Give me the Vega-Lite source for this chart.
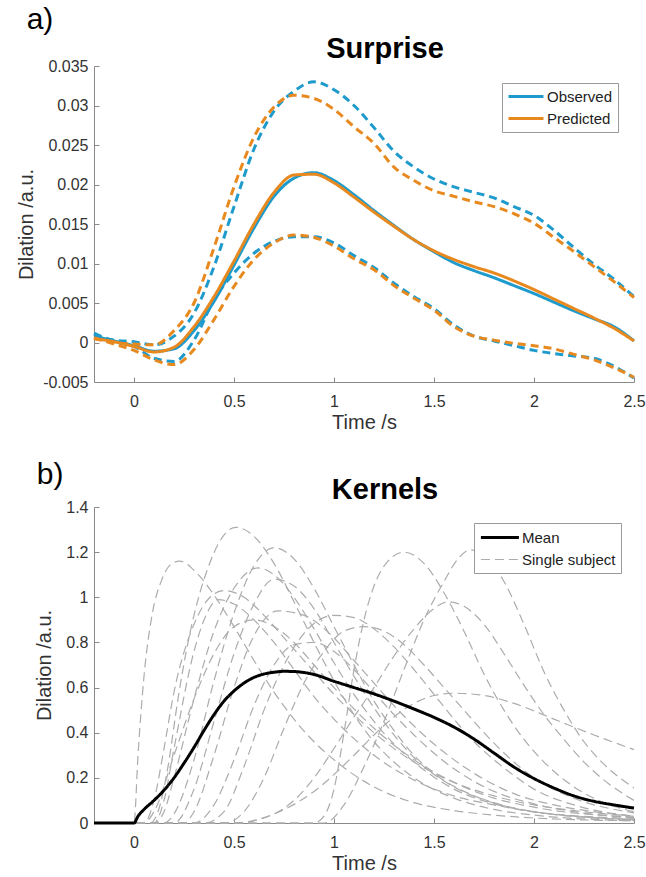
{
"$schema": "https://vega.github.io/schema/vega-lite/v6.json",
"background": "white",
"padding": {"left": 16, "top": 5, "right": 0, "bottom": 0},
"spacing": 28,
"resolve": {"scale": {"color": "independent", "strokeDash": "independent", "strokeWidth": "independent"}, "legend": {"color": "independent", "strokeDash": "independent", "strokeWidth": "independent"}},
"config": {
  "view": {"stroke": null},
  "font": "Liberation Sans",
  "axis": {"domainColor": "#8a8a8a", "tickColor": "#8a8a8a", "domainWidth": 1, "tickWidth": 1, "tickSize": -5, "labelColor": "#333333", "titleColor": "#333333", "labelFontSize": 16, "titleFontSize": 20, "titleFontWeight": "normal", "grid": false, "labelFlush": false, "labelOverlap": false},
  "axisX": {"labelPadding": 16, "titlePadding": 3},
  "axisY": {"labelPadding": 11, "titlePadding": 6},
  "legend": {"orient": "none", "strokeColor": "#999999", "fillColor": "white", "padding": 5, "labelFontSize": 15, "labelColor": "#222222", "title": null, "rowPadding": 5}
},
"datasets": {
"a": [
{"t":-0.2,"v":0.0008,"s":"om","m":"Observed","k":"mean"},{"t":-0.1,"v":0.0002,"s":"om","m":"Observed","k":"mean"},{"t":0,"v":-0.0004,"s":"om","m":"Observed","k":"mean"},{"t":0.1,"v":-0.0011,"s":"om","m":"Observed","k":"mean"},{"t":0.2,"v":-0.0008,"s":"om","m":"Observed","k":"mean"},{"t":0.3,"v":0.0015,"s":"om","m":"Observed","k":"mean"},{"t":0.4,"v":0.0052,"s":"om","m":"Observed","k":"mean"},{"t":0.5,"v":0.0098,"s":"om","m":"Observed","k":"mean"},{"t":0.6,"v":0.0145,"s":"om","m":"Observed","k":"mean"},{"t":0.7,"v":0.0185,"s":"om","m":"Observed","k":"mean"},{"t":0.8,"v":0.0208,"s":"om","m":"Observed","k":"mean"},{"t":0.9,"v":0.0215,"s":"om","m":"Observed","k":"mean"},{"t":1.0,"v":0.0205,"s":"om","m":"Observed","k":"mean"},{"t":1.1,"v":0.0187,"s":"om","m":"Observed","k":"mean"},{"t":1.2,"v":0.0167,"s":"om","m":"Observed","k":"mean"},{"t":1.3,"v":0.0148,"s":"om","m":"Observed","k":"mean"},{"t":1.4,"v":0.0130,"s":"om","m":"Observed","k":"mean"},{"t":1.5,"v":0.0115,"s":"om","m":"Observed","k":"mean"},{"t":1.6,"v":0.0101,"s":"om","m":"Observed","k":"mean"},{"t":1.7,"v":0.0091,"s":"om","m":"Observed","k":"mean"},{"t":1.8,"v":0.0082,"s":"om","m":"Observed","k":"mean"},{"t":1.9,"v":0.0072,"s":"om","m":"Observed","k":"mean"},{"t":2.0,"v":0.0062,"s":"om","m":"Observed","k":"mean"},{"t":2.1,"v":0.0051,"s":"om","m":"Observed","k":"mean"},{"t":2.2,"v":0.0040,"s":"om","m":"Observed","k":"mean"},{"t":2.3,"v":0.0030,"s":"om","m":"Observed","k":"mean"},{"t":2.4,"v":0.0020,"s":"om","m":"Observed","k":"mean"},{"t":2.5,"v":0.0002,"s":"om","m":"Observed","k":"mean"},
{"t":-0.2,"v":0.0012,"s":"ou","m":"Observed","k":"ci"},{"t":-0.1,"v":0.0003,"s":"ou","m":"Observed","k":"ci"},{"t":0,"v":0.0001,"s":"ou","m":"Observed","k":"ci"},{"t":0.1,"v":-0.0003,"s":"ou","m":"Observed","k":"ci"},{"t":0.2,"v":0.0008,"s":"ou","m":"Observed","k":"ci"},{"t":0.3,"v":0.0037,"s":"ou","m":"Observed","k":"ci"},{"t":0.4,"v":0.0096,"s":"ou","m":"Observed","k":"ci"},{"t":0.5,"v":0.0172,"s":"ou","m":"Observed","k":"ci"},{"t":0.6,"v":0.0245,"s":"ou","m":"Observed","k":"ci"},{"t":0.7,"v":0.0293,"s":"ou","m":"Observed","k":"ci"},{"t":0.8,"v":0.0318,"s":"ou","m":"Observed","k":"ci"},{"t":0.9,"v":0.0330,"s":"ou","m":"Observed","k":"ci"},{"t":1.0,"v":0.0320,"s":"ou","m":"Observed","k":"ci"},{"t":1.1,"v":0.0300,"s":"ou","m":"Observed","k":"ci"},{"t":1.2,"v":0.0272,"s":"ou","m":"Observed","k":"ci"},{"t":1.3,"v":0.0242,"s":"ou","m":"Observed","k":"ci"},{"t":1.4,"v":0.0222,"s":"ou","m":"Observed","k":"ci"},{"t":1.5,"v":0.0207,"s":"ou","m":"Observed","k":"ci"},{"t":1.6,"v":0.0197,"s":"ou","m":"Observed","k":"ci"},{"t":1.7,"v":0.0190,"s":"ou","m":"Observed","k":"ci"},{"t":1.8,"v":0.0183,"s":"ou","m":"Observed","k":"ci"},{"t":1.9,"v":0.0172,"s":"ou","m":"Observed","k":"ci"},{"t":2.0,"v":0.0161,"s":"ou","m":"Observed","k":"ci"},{"t":2.1,"v":0.0142,"s":"ou","m":"Observed","k":"ci"},{"t":2.2,"v":0.0120,"s":"ou","m":"Observed","k":"ci"},{"t":2.3,"v":0.0099,"s":"ou","m":"Observed","k":"ci"},{"t":2.4,"v":0.0080,"s":"ou","m":"Observed","k":"ci"},{"t":2.5,"v":0.0058,"s":"ou","m":"Observed","k":"ci"},
{"t":-0.2,"v":0.0010,"s":"ol","m":"Observed","k":"ci"},{"t":-0.1,"v":0.0001,"s":"ol","m":"Observed","k":"ci"},{"t":0,"v":-0.0005,"s":"ol","m":"Observed","k":"ci"},{"t":0.1,"v":-0.0020,"s":"ol","m":"Observed","k":"ci"},{"t":0.2,"v":-0.0024,"s":"ol","m":"Observed","k":"ci"},{"t":0.3,"v":0.0003,"s":"ol","m":"Observed","k":"ci"},{"t":0.4,"v":0.0054,"s":"ol","m":"Observed","k":"ci"},{"t":0.5,"v":0.0088,"s":"ol","m":"Observed","k":"ci"},{"t":0.6,"v":0.0113,"s":"ol","m":"Observed","k":"ci"},{"t":0.7,"v":0.0128,"s":"ol","m":"Observed","k":"ci"},{"t":0.8,"v":0.0134,"s":"ol","m":"Observed","k":"ci"},{"t":0.9,"v":0.0134,"s":"ol","m":"Observed","k":"ci"},{"t":1.0,"v":0.0126,"s":"ol","m":"Observed","k":"ci"},{"t":1.1,"v":0.0110,"s":"ol","m":"Observed","k":"ci"},{"t":1.2,"v":0.0095,"s":"ol","m":"Observed","k":"ci"},{"t":1.3,"v":0.0075,"s":"ol","m":"Observed","k":"ci"},{"t":1.4,"v":0.0058,"s":"ol","m":"Observed","k":"ci"},{"t":1.5,"v":0.0043,"s":"ol","m":"Observed","k":"ci"},{"t":1.6,"v":0.0022,"s":"ol","m":"Observed","k":"ci"},{"t":1.7,"v":0.0008,"s":"ol","m":"Observed","k":"ci"},{"t":1.8,"v":0.0002,"s":"ol","m":"Observed","k":"ci"},{"t":1.9,"v":-0.0004,"s":"ol","m":"Observed","k":"ci"},{"t":2.0,"v":-0.0010,"s":"ol","m":"Observed","k":"ci"},{"t":2.1,"v":-0.0014,"s":"ol","m":"Observed","k":"ci"},{"t":2.2,"v":-0.0017,"s":"ol","m":"Observed","k":"ci"},{"t":2.3,"v":-0.0020,"s":"ol","m":"Observed","k":"ci"},{"t":2.4,"v":-0.0030,"s":"ol","m":"Observed","k":"ci"},{"t":2.5,"v":-0.0045,"s":"ol","m":"Observed","k":"ci"},
{"t":-0.2,"v":0.0005,"s":"pm","m":"Predicted","k":"mean"},{"t":-0.1,"v":0.0001,"s":"pm","m":"Predicted","k":"mean"},{"t":0,"v":-0.0005,"s":"pm","m":"Predicted","k":"mean"},{"t":0.1,"v":-0.0012,"s":"pm","m":"Predicted","k":"mean"},{"t":0.2,"v":-0.0006,"s":"pm","m":"Predicted","k":"mean"},{"t":0.3,"v":0.0020,"s":"pm","m":"Predicted","k":"mean"},{"t":0.4,"v":0.0058,"s":"pm","m":"Predicted","k":"mean"},{"t":0.5,"v":0.0103,"s":"pm","m":"Predicted","k":"mean"},{"t":0.6,"v":0.0150,"s":"pm","m":"Predicted","k":"mean"},{"t":0.7,"v":0.0190,"s":"pm","m":"Predicted","k":"mean"},{"t":0.8,"v":0.0212,"s":"pm","m":"Predicted","k":"mean"},{"t":0.9,"v":0.0213,"s":"pm","m":"Predicted","k":"mean"},{"t":1.0,"v":0.0202,"s":"pm","m":"Predicted","k":"mean"},{"t":1.1,"v":0.0184,"s":"pm","m":"Predicted","k":"mean"},{"t":1.2,"v":0.0165,"s":"pm","m":"Predicted","k":"mean"},{"t":1.3,"v":0.0147,"s":"pm","m":"Predicted","k":"mean"},{"t":1.4,"v":0.0130,"s":"pm","m":"Predicted","k":"mean"},{"t":1.5,"v":0.0116,"s":"pm","m":"Predicted","k":"mean"},{"t":1.6,"v":0.0105,"s":"pm","m":"Predicted","k":"mean"},{"t":1.7,"v":0.0096,"s":"pm","m":"Predicted","k":"mean"},{"t":1.8,"v":0.0088,"s":"pm","m":"Predicted","k":"mean"},{"t":1.9,"v":0.0078,"s":"pm","m":"Predicted","k":"mean"},{"t":2.0,"v":0.0067,"s":"pm","m":"Predicted","k":"mean"},{"t":2.1,"v":0.0055,"s":"pm","m":"Predicted","k":"mean"},{"t":2.2,"v":0.0043,"s":"pm","m":"Predicted","k":"mean"},{"t":2.3,"v":0.0031,"s":"pm","m":"Predicted","k":"mean"},{"t":2.4,"v":0.0018,"s":"pm","m":"Predicted","k":"mean"},{"t":2.5,"v":0.0002,"s":"pm","m":"Predicted","k":"mean"},
{"t":-0.2,"v":0.0005,"s":"pu","m":"Predicted","k":"ci"},{"t":-0.1,"v":0.0000,"s":"pu","m":"Predicted","k":"ci"},{"t":0,"v":-0.0002,"s":"pu","m":"Predicted","k":"ci"},{"t":0.1,"v":-0.0003,"s":"pu","m":"Predicted","k":"ci"},{"t":0.2,"v":0.0015,"s":"pu","m":"Predicted","k":"ci"},{"t":0.3,"v":0.0050,"s":"pu","m":"Predicted","k":"ci"},{"t":0.4,"v":0.0120,"s":"pu","m":"Predicted","k":"ci"},{"t":0.5,"v":0.0197,"s":"pu","m":"Predicted","k":"ci"},{"t":0.6,"v":0.0260,"s":"pu","m":"Predicted","k":"ci"},{"t":0.7,"v":0.0298,"s":"pu","m":"Predicted","k":"ci"},{"t":0.8,"v":0.0313,"s":"pu","m":"Predicted","k":"ci"},{"t":0.9,"v":0.0309,"s":"pu","m":"Predicted","k":"ci"},{"t":1.0,"v":0.0295,"s":"pu","m":"Predicted","k":"ci"},{"t":1.1,"v":0.0273,"s":"pu","m":"Predicted","k":"ci"},{"t":1.2,"v":0.0252,"s":"pu","m":"Predicted","k":"ci"},{"t":1.3,"v":0.0222,"s":"pu","m":"Predicted","k":"ci"},{"t":1.4,"v":0.0205,"s":"pu","m":"Predicted","k":"ci"},{"t":1.5,"v":0.0192,"s":"pu","m":"Predicted","k":"ci"},{"t":1.6,"v":0.0185,"s":"pu","m":"Predicted","k":"ci"},{"t":1.7,"v":0.0178,"s":"pu","m":"Predicted","k":"ci"},{"t":1.8,"v":0.0172,"s":"pu","m":"Predicted","k":"ci"},{"t":1.9,"v":0.0163,"s":"pu","m":"Predicted","k":"ci"},{"t":2.0,"v":0.0151,"s":"pu","m":"Predicted","k":"ci"},{"t":2.1,"v":0.0133,"s":"pu","m":"Predicted","k":"ci"},{"t":2.2,"v":0.0115,"s":"pu","m":"Predicted","k":"ci"},{"t":2.3,"v":0.0096,"s":"pu","m":"Predicted","k":"ci"},{"t":2.4,"v":0.0077,"s":"pu","m":"Predicted","k":"ci"},{"t":2.5,"v":0.0057,"s":"pu","m":"Predicted","k":"ci"},
{"t":-0.2,"v":0.0006,"s":"pl","m":"Predicted","k":"ci"},{"t":-0.1,"v":-0.0002,"s":"pl","m":"Predicted","k":"ci"},{"t":0,"v":-0.0010,"s":"pl","m":"Predicted","k":"ci"},{"t":0.1,"v":-0.0022,"s":"pl","m":"Predicted","k":"ci"},{"t":0.2,"v":-0.0028,"s":"pl","m":"Predicted","k":"ci"},{"t":0.3,"v":-0.0009,"s":"pl","m":"Predicted","k":"ci"},{"t":0.4,"v":0.0029,"s":"pl","m":"Predicted","k":"ci"},{"t":0.5,"v":0.0071,"s":"pl","m":"Predicted","k":"ci"},{"t":0.6,"v":0.0105,"s":"pl","m":"Predicted","k":"ci"},{"t":0.7,"v":0.0126,"s":"pl","m":"Predicted","k":"ci"},{"t":0.8,"v":0.0136,"s":"pl","m":"Predicted","k":"ci"},{"t":0.9,"v":0.0133,"s":"pl","m":"Predicted","k":"ci"},{"t":1.0,"v":0.0122,"s":"pl","m":"Predicted","k":"ci"},{"t":1.1,"v":0.0106,"s":"pl","m":"Predicted","k":"ci"},{"t":1.2,"v":0.0092,"s":"pl","m":"Predicted","k":"ci"},{"t":1.3,"v":0.0072,"s":"pl","m":"Predicted","k":"ci"},{"t":1.4,"v":0.0056,"s":"pl","m":"Predicted","k":"ci"},{"t":1.5,"v":0.0041,"s":"pl","m":"Predicted","k":"ci"},{"t":1.6,"v":0.0020,"s":"pl","m":"Predicted","k":"ci"},{"t":1.7,"v":0.0008,"s":"pl","m":"Predicted","k":"ci"},{"t":1.8,"v":0.0003,"s":"pl","m":"Predicted","k":"ci"},{"t":1.9,"v":-0.0001,"s":"pl","m":"Predicted","k":"ci"},{"t":2.0,"v":-0.0004,"s":"pl","m":"Predicted","k":"ci"},{"t":2.1,"v":-0.0008,"s":"pl","m":"Predicted","k":"ci"},{"t":2.2,"v":-0.0015,"s":"pl","m":"Predicted","k":"ci"},{"t":2.3,"v":-0.0022,"s":"pl","m":"Predicted","k":"ci"},{"t":2.4,"v":-0.0032,"s":"pl","m":"Predicted","k":"ci"},{"t":2.5,"v":-0.0044,"s":"pl","m":"Predicted","k":"ci"}
],
"bm": [
{"t":-0.2,"v":0,"type":"Mean"},{"t":0,"v":0,"type":"Mean"},{"t":0.02,"v":0.03,"type":"Mean"},{"t":0.05,"v":0.06,"type":"Mean"},{"t":0.1,"v":0.1,"type":"Mean"},{"t":0.15,"v":0.145,"type":"Mean"},{"t":0.2,"v":0.2,"type":"Mean"},{"t":0.25,"v":0.265,"type":"Mean"},{"t":0.3,"v":0.335,"type":"Mean"},{"t":0.35,"v":0.41,"type":"Mean"},{"t":0.4,"v":0.48,"type":"Mean"},{"t":0.45,"v":0.54,"type":"Mean"},{"t":0.5,"v":0.585,"type":"Mean"},{"t":0.55,"v":0.62,"type":"Mean"},{"t":0.6,"v":0.645,"type":"Mean"},{"t":0.65,"v":0.66,"type":"Mean"},{"t":0.7,"v":0.668,"type":"Mean"},{"t":0.75,"v":0.672,"type":"Mean"},{"t":0.8,"v":0.671,"type":"Mean"},{"t":0.9,"v":0.658,"type":"Mean"},{"t":1.0,"v":0.628,"type":"Mean"},{"t":1.1,"v":0.6,"type":"Mean"},{"t":1.2,"v":0.572,"type":"Mean"},{"t":1.3,"v":0.54,"type":"Mean"},{"t":1.4,"v":0.505,"type":"Mean"},{"t":1.5,"v":0.468,"type":"Mean"},{"t":1.6,"v":0.425,"type":"Mean"},{"t":1.7,"v":0.372,"type":"Mean"},{"t":1.8,"v":0.31,"type":"Mean"},{"t":1.9,"v":0.248,"type":"Mean"},{"t":2.0,"v":0.197,"type":"Mean"},{"t":2.1,"v":0.155,"type":"Mean"},{"t":2.2,"v":0.12,"type":"Mean"},{"t":2.3,"v":0.096,"type":"Mean"},{"t":2.4,"v":0.08,"type":"Mean"},{"t":2.5,"v":0.066,"type":"Mean"}
],
"bs": [
{"s":1,"t":-0.2,"v":0},{"s":1,"t":0,"v":0},{"s":1,"t":0.02,"v":0.3},{"s":1,"t":0.05,"v":0.65},{"s":1,"t":0.09,"v":0.92},{"s":1,"t":0.14,"v":1.08},{"s":1,"t":0.19,"v":1.15},{"s":1,"t":0.23,"v":1.16},{"s":1,"t":0.3,"v":1.12},{"s":1,"t":0.4,"v":1.01},{"s":1,"t":0.5,"v":0.87},{"s":1,"t":0.6,"v":0.72},{"s":1,"t":0.7,"v":0.58},{"s":1,"t":0.8,"v":0.46},{"s":1,"t":0.9,"v":0.36},{"s":1,"t":1.0,"v":0.28},{"s":1,"t":1.2,"v":0.16},{"s":1,"t":1.4,"v":0.09},{"s":1,"t":1.6,"v":0.055},{"s":1,"t":1.8,"v":0.035},{"s":1,"t":2.0,"v":0.022},{"s":1,"t":2.5,"v":0.01},
{"s":2,"t":-0.2,"v":0},{"s":2,"t":0.08,"v":0},{"s":2,"t":0.12,"v":0.05},{"s":2,"t":0.17,"v":0.25},{"s":2,"t":0.22,"v":0.55},{"s":2,"t":0.27,"v":0.8},{"s":2,"t":0.32,"v":0.99},{"s":2,"t":0.37,"v":1.13},{"s":2,"t":0.43,"v":1.25},{"s":2,"t":0.51,"v":1.31},{"s":2,"t":0.6,"v":1.27},{"s":2,"t":0.7,"v":1.15},{"s":2,"t":0.8,"v":0.98},{"s":2,"t":0.9,"v":0.8},{"s":2,"t":1.0,"v":0.63},{"s":2,"t":1.1,"v":0.48},{"s":2,"t":1.2,"v":0.36},{"s":2,"t":1.3,"v":0.27},{"s":2,"t":1.4,"v":0.2},{"s":2,"t":1.6,"v":0.11},{"s":2,"t":1.8,"v":0.06},{"s":2,"t":2.0,"v":0.035},{"s":2,"t":2.5,"v":0.01},
{"s":3,"t":-0.2,"v":0},{"s":3,"t":0.15,"v":0},{"s":3,"t":0.2,"v":0.04},{"s":3,"t":0.3,"v":0.28},{"s":3,"t":0.4,"v":0.63},{"s":3,"t":0.5,"v":0.93},{"s":3,"t":0.6,"v":1.14},{"s":3,"t":0.7,"v":1.22},{"s":3,"t":0.8,"v":1.17},{"s":3,"t":0.9,"v":1.04},{"s":3,"t":1.0,"v":0.87},{"s":3,"t":1.1,"v":0.7},{"s":3,"t":1.2,"v":0.54},{"s":3,"t":1.3,"v":0.41},{"s":3,"t":1.4,"v":0.3},{"s":3,"t":1.5,"v":0.22},{"s":3,"t":1.7,"v":0.12},{"s":3,"t":1.9,"v":0.065},{"s":3,"t":2.2,"v":0.03},{"s":3,"t":2.5,"v":0.015},
{"s":4,"t":-0.2,"v":0},{"s":4,"t":0.1,"v":0},{"s":4,"t":0.15,"v":0.05},{"s":4,"t":0.2,"v":0.2},{"s":4,"t":0.3,"v":0.55},{"s":4,"t":0.4,"v":0.85},{"s":4,"t":0.5,"v":1.04},{"s":4,"t":0.62,"v":1.13},{"s":4,"t":0.7,"v":1.1},{"s":4,"t":0.8,"v":1.0},{"s":4,"t":0.9,"v":0.86},{"s":4,"t":1.0,"v":0.71},{"s":4,"t":1.1,"v":0.57},{"s":4,"t":1.2,"v":0.45},{"s":4,"t":1.3,"v":0.35},{"s":4,"t":1.4,"v":0.27},{"s":4,"t":1.6,"v":0.15},{"s":4,"t":1.8,"v":0.085},{"s":4,"t":2.0,"v":0.05},{"s":4,"t":2.5,"v":0.015},
{"s":5,"t":-0.2,"v":0},{"s":5,"t":0.2,"v":0},{"s":5,"t":0.3,"v":0.15},{"s":5,"t":0.4,"v":0.45},{"s":5,"t":0.5,"v":0.75},{"s":5,"t":0.6,"v":0.97},{"s":5,"t":0.7,"v":1.08},{"s":5,"t":0.8,"v":1.05},{"s":5,"t":0.9,"v":0.95},{"s":5,"t":1.0,"v":0.8},{"s":5,"t":1.1,"v":0.65},{"s":5,"t":1.2,"v":0.51},{"s":5,"t":1.3,"v":0.39},{"s":5,"t":1.4,"v":0.29},{"s":5,"t":1.6,"v":0.16},{"s":5,"t":1.8,"v":0.09},{"s":5,"t":2.0,"v":0.05},{"s":5,"t":2.5,"v":0.015},
{"s":6,"t":-0.2,"v":0},{"s":6,"t":0.05,"v":0},{"s":6,"t":0.1,"v":0.1},{"s":6,"t":0.15,"v":0.33},{"s":6,"t":0.2,"v":0.58},{"s":6,"t":0.3,"v":0.88},{"s":6,"t":0.38,"v":1.0},{"s":6,"t":0.45,"v":1.03},{"s":6,"t":0.55,"v":1.0},{"s":6,"t":0.65,"v":0.92},{"s":6,"t":0.75,"v":0.82},{"s":6,"t":0.9,"v":0.67},{"s":6,"t":1.0,"v":0.57},{"s":6,"t":1.2,"v":0.4},{"s":6,"t":1.4,"v":0.27},{"s":6,"t":1.6,"v":0.18},{"s":6,"t":1.8,"v":0.12},{"s":6,"t":2.0,"v":0.08},{"s":6,"t":2.2,"v":0.055},{"s":6,"t":2.5,"v":0.03},
{"s":7,"t":-0.2,"v":0},{"s":7,"t":0.1,"v":0},{"s":7,"t":0.15,"v":0.1},{"s":7,"t":0.2,"v":0.33},{"s":7,"t":0.3,"v":0.76},{"s":7,"t":0.36,"v":0.92},{"s":7,"t":0.42,"v":0.99},{"s":7,"t":0.5,"v":0.97},{"s":7,"t":0.6,"v":0.9},{"s":7,"t":0.7,"v":0.8},{"s":7,"t":0.8,"v":0.68},{"s":7,"t":0.9,"v":0.56},{"s":7,"t":1.0,"v":0.46},{"s":7,"t":1.2,"v":0.3},{"s":7,"t":1.4,"v":0.19},{"s":7,"t":1.6,"v":0.12},{"s":7,"t":1.8,"v":0.08},{"s":7,"t":2.0,"v":0.05},{"s":7,"t":2.5,"v":0.02},
{"s":8,"t":-0.2,"v":0},{"s":8,"t":0.25,"v":0},{"s":8,"t":0.3,"v":0.05},{"s":8,"t":0.4,"v":0.3},{"s":8,"t":0.5,"v":0.6},{"s":8,"t":0.6,"v":0.83},{"s":8,"t":0.72,"v":0.94},{"s":8,"t":0.85,"v":0.92},{"s":8,"t":1.0,"v":0.82},{"s":8,"t":1.1,"v":0.72},{"s":8,"t":1.2,"v":0.62},{"s":8,"t":1.3,"v":0.52},{"s":8,"t":1.4,"v":0.43},{"s":8,"t":1.5,"v":0.35},{"s":8,"t":1.7,"v":0.22},{"s":8,"t":1.9,"v":0.13},{"s":8,"t":2.1,"v":0.08},{"s":8,"t":2.3,"v":0.05},{"s":8,"t":2.5,"v":0.03},
{"s":9,"t":-0.2,"v":0},{"s":9,"t":0.35,"v":0},{"s":9,"t":0.45,"v":0.05},{"s":9,"t":0.55,"v":0.25},{"s":9,"t":0.65,"v":0.5},{"s":9,"t":0.75,"v":0.7},{"s":9,"t":0.85,"v":0.84},{"s":9,"t":1.0,"v":0.92},{"s":9,"t":1.1,"v":0.91},{"s":9,"t":1.2,"v":0.86},{"s":9,"t":1.3,"v":0.78},{"s":9,"t":1.4,"v":0.68},{"s":9,"t":1.5,"v":0.57},{"s":9,"t":1.6,"v":0.46},{"s":9,"t":1.7,"v":0.36},{"s":9,"t":1.8,"v":0.28},{"s":9,"t":1.9,"v":0.21},{"s":9,"t":2.0,"v":0.15},{"s":9,"t":2.2,"v":0.08},{"s":9,"t":2.5,"v":0.03},
{"s":10,"t":-0.2,"v":0},{"s":10,"t":0.45,"v":0},{"s":10,"t":0.55,"v":0.05},{"s":10,"t":0.65,"v":0.2},{"s":10,"t":0.75,"v":0.42},{"s":10,"t":0.85,"v":0.62},{"s":10,"t":0.95,"v":0.76},{"s":10,"t":1.05,"v":0.85},{"s":10,"t":1.15,"v":0.87},{"s":10,"t":1.25,"v":0.85},{"s":10,"t":1.35,"v":0.79},{"s":10,"t":1.45,"v":0.7},{"s":10,"t":1.55,"v":0.6},{"s":10,"t":1.65,"v":0.5},{"s":10,"t":1.75,"v":0.4},{"s":10,"t":1.85,"v":0.31},{"s":10,"t":2.0,"v":0.2},{"s":10,"t":2.2,"v":0.11},{"s":10,"t":2.5,"v":0.045},
{"s":11,"t":-0.2,"v":0},{"s":11,"t":0.9,"v":0},{"s":11,"t":0.95,"v":0.03},{"s":11,"t":1.0,"v":0.15},{"s":11,"t":1.05,"v":0.4},{"s":11,"t":1.1,"v":0.68},{"s":11,"t":1.15,"v":0.9},{"s":11,"t":1.2,"v":1.05},{"s":11,"t":1.27,"v":1.16},{"s":11,"t":1.35,"v":1.2},{"s":11,"t":1.45,"v":1.15},{"s":11,"t":1.55,"v":1.02},{"s":11,"t":1.65,"v":0.85},{"s":11,"t":1.75,"v":0.66},{"s":11,"t":1.85,"v":0.5},{"s":11,"t":1.95,"v":0.37},{"s":11,"t":2.05,"v":0.27},{"s":11,"t":2.2,"v":0.16},{"s":11,"t":2.35,"v":0.09},{"s":11,"t":2.5,"v":0.05},
{"s":12,"t":-0.2,"v":0},{"s":12,"t":0.95,"v":0},{"s":12,"t":1.05,"v":0.08},{"s":12,"t":1.15,"v":0.25},{"s":12,"t":1.25,"v":0.45},{"s":12,"t":1.35,"v":0.68},{"s":12,"t":1.45,"v":0.9},{"s":12,"t":1.55,"v":1.07},{"s":12,"t":1.62,"v":1.17},{"s":12,"t":1.68,"v":1.21},{"s":12,"t":1.75,"v":1.19},{"s":12,"t":1.85,"v":1.07},{"s":12,"t":1.95,"v":0.88},{"s":12,"t":2.05,"v":0.67},{"s":12,"t":2.15,"v":0.5},{"s":12,"t":2.25,"v":0.36},{"s":12,"t":2.35,"v":0.26},{"s":12,"t":2.5,"v":0.155},
{"s":13,"t":-0.2,"v":0},{"s":13,"t":0.5,"v":0},{"s":13,"t":0.7,"v":0.04},{"s":13,"t":0.8,"v":0.1},{"s":13,"t":0.9,"v":0.2},{"s":13,"t":1.0,"v":0.33},{"s":13,"t":1.1,"v":0.47},{"s":13,"t":1.2,"v":0.6},{"s":13,"t":1.3,"v":0.74},{"s":13,"t":1.4,"v":0.86},{"s":13,"t":1.5,"v":0.95},{"s":13,"t":1.57,"v":0.98},{"s":13,"t":1.65,"v":0.96},{"s":13,"t":1.75,"v":0.88},{"s":13,"t":1.85,"v":0.75},{"s":13,"t":1.95,"v":0.61},{"s":13,"t":2.05,"v":0.48},{"s":13,"t":2.15,"v":0.37},{"s":13,"t":2.25,"v":0.27},{"s":13,"t":2.35,"v":0.19},{"s":13,"t":2.5,"v":0.1},
{"s":14,"t":-0.2,"v":0},{"s":14,"t":0.5,"v":0},{"s":14,"t":0.7,"v":0.04},{"s":14,"t":0.9,"v":0.14},{"s":14,"t":1.1,"v":0.3},{"s":14,"t":1.2,"v":0.39},{"s":14,"t":1.3,"v":0.47},{"s":14,"t":1.4,"v":0.53},{"s":14,"t":1.5,"v":0.565},{"s":14,"t":1.6,"v":0.575},{"s":14,"t":1.75,"v":0.565},{"s":14,"t":1.9,"v":0.53},{"s":14,"t":2.1,"v":0.46},{"s":14,"t":2.3,"v":0.39},{"s":14,"t":2.5,"v":0.325},
{"s":15,"t":-0.2,"v":0},{"s":15,"t":0.05,"v":0},{"s":15,"t":0.1,"v":0.05},{"s":15,"t":0.2,"v":0.3},{"s":15,"t":0.3,"v":0.55},{"s":15,"t":0.4,"v":0.75},{"s":15,"t":0.5,"v":0.87},{"s":15,"t":0.6,"v":0.9},{"s":15,"t":0.7,"v":0.87},{"s":15,"t":0.8,"v":0.8},{"s":15,"t":0.9,"v":0.7},{"s":15,"t":1.0,"v":0.6},{"s":15,"t":1.2,"v":0.42},{"s":15,"t":1.4,"v":0.28},{"s":15,"t":1.6,"v":0.18},{"s":15,"t":1.8,"v":0.11},{"s":15,"t":2.0,"v":0.07},{"s":15,"t":2.5,"v":0.025},
{"s":16,"t":-0.2,"v":0},{"s":16,"t":0.3,"v":0},{"s":16,"t":0.4,"v":0.08},{"s":16,"t":0.5,"v":0.28},{"s":16,"t":0.6,"v":0.52},{"s":16,"t":0.7,"v":0.7},{"s":16,"t":0.8,"v":0.79},{"s":16,"t":0.9,"v":0.8},{"s":16,"t":1.0,"v":0.76},{"s":16,"t":1.1,"v":0.68},{"s":16,"t":1.2,"v":0.58},{"s":16,"t":1.3,"v":0.48},{"s":16,"t":1.4,"v":0.39},{"s":16,"t":1.6,"v":0.24},{"s":16,"t":1.8,"v":0.14},{"s":16,"t":2.0,"v":0.085},{"s":16,"t":2.2,"v":0.05},{"s":16,"t":2.5,"v":0.025}
]
},
"vconcat": [
{
  "title": {"text": "a)", "anchor": "start", "fontSize": 30, "fontWeight": "normal", "color": "#000000", "dx": 10, "offset": 0},
  "vconcat": [{
    "title": {"text": "Surprise", "fontSize": 29, "fontWeight": "bold", "color": "#000000", "dx": 21, "offset": -6},
    "width": 540, "height": 316,
    "data": {"name": "a"},
    "mark": {"type": "line", "interpolate": "monotone", "strokeWidth": 3},
    "encoding": {
      "x": {"field": "t", "type": "quantitative", "scale": {"domain": [-0.2, 2.5], "nice": false, "zero": false}, "axis": {"values": [0, 0.5, 1, 1.5, 2, 2.5], "title": "Time /s", "labelExpr": "datum.value + ''"}},
      "y": {"field": "v", "type": "quantitative", "scale": {"domain": [-0.005, 0.035], "nice": false, "zero": false}, "axis": {"values": [-0.005, 0, 0.005, 0.01, 0.015, 0.02, 0.025, 0.03, 0.035], "title": "Dilation /a.u.", "labelExpr": "datum.value + ''"}},
      "color": {"field": "m", "type": "nominal", "scale": {"domain": ["Observed", "Predicted"], "range": ["#1e9bcc", "#e8891f"]}, "legend": {"legendX": 408, "legendY": 17, "symbolType": "M-1,0H4", "symbolSize": 196, "symbolStrokeWidth": 3, "labelOffset": 23}},
      "strokeDash": {"field": "k", "type": "nominal", "scale": {"domain": ["mean", "ci"], "range": [[1, 0], [8, 5]]}, "legend": null},
      "detail": {"field": "s", "type": "nominal"}
    }
  }]
},
{
  "title": {"text": "b)", "anchor": "start", "fontSize": 30, "fontWeight": "normal", "color": "#000000", "dx": 2, "offset": -14},
  "vconcat": [{
    "title": {"text": "Kernels", "fontSize": 29, "fontWeight": "bold", "color": "#000000", "dx": 21, "offset": -6},
    "width": 540, "height": 316,
    "encoding": {
      "x": {"field": "t", "type": "quantitative", "scale": {"domain": [-0.2, 2.5], "nice": false, "zero": false}, "axis": {"values": [0, 0.5, 1, 1.5, 2, 2.5], "title": "Time /s", "labelExpr": "datum.value + ''"}},
      "y": {"field": "v", "type": "quantitative", "scale": {"domain": [0, 1.4], "nice": false, "zero": false}, "axis": {"values": [0, 0.2, 0.4, 0.6, 0.8, 1, 1.2, 1.4], "title": "Dilation /a.u.", "titlePadding": 11, "labelExpr": "datum.value + ''"}}
    },
    "layer": [
      {
        "data": {"name": "bs"},
        "transform": [{"calculate": "'Single subject'", "as": "type"}],
        "mark": {"type": "line", "interpolate": "monotone"},
        "encoding": {
          "detail": {"field": "s", "type": "nominal"},
          "color": {"field": "type", "type": "nominal", "scale": {"domain": ["Mean", "Single subject"], "range": ["#000000", "#acacac"]}, "legend": {"legendX": 380, "legendY": 16, "symbolType": "M-1,0H4", "symbolSize": 231, "labelOffset": 24}},
          "strokeDash": {"field": "type", "type": "nominal", "scale": {"domain": ["Mean", "Single subject"], "range": [[1, 0], [9, 5]]}, "legend": {"legendX": 380, "legendY": 16, "symbolType": "M-1,0H4", "symbolSize": 231, "labelOffset": 24}},
          "strokeWidth": {"field": "type", "type": "ordinal", "scale": {"domain": ["Mean", "Single subject"], "range": [3, 1.2]}, "legend": {"legendX": 380, "legendY": 16, "symbolType": "M-1,0H4", "symbolSize": 231, "labelOffset": 24}}
        }
      },
      {
        "data": {"name": "bm"},
        "mark": {"type": "line", "interpolate": "monotone"},
        "encoding": {
          "color": {"field": "type", "type": "nominal"},
          "strokeDash": {"field": "type", "type": "nominal"},
          "strokeWidth": {"field": "type", "type": "ordinal"}
        }
      }
    ]
  }]
}
]
}
